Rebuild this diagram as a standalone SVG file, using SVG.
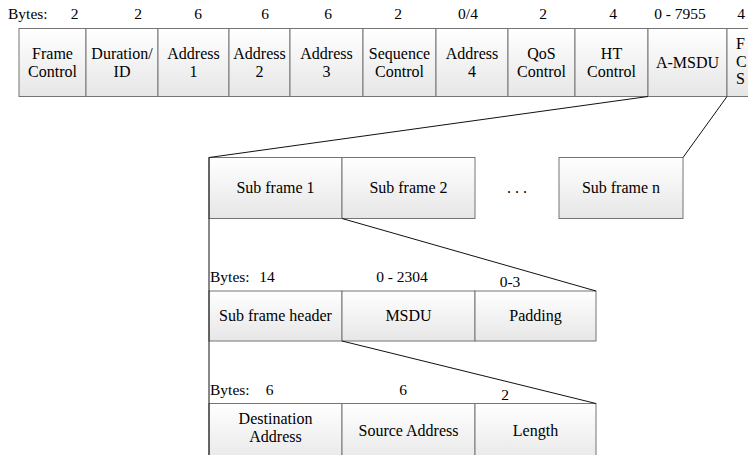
<svg xmlns="http://www.w3.org/2000/svg" width="748" height="455" viewBox="0 0 748 455">
  <defs>
    <linearGradient id="cellFill" x1="0" y1="0" x2="0" y2="1">
      <stop offset="0" stop-color="#ffffff"/>
      <stop offset="1" stop-color="#e6e6e6"/>
    </linearGradient>
    <style>
      .cell { fill: url(#cellFill); stroke: #747474; stroke-width: 1; }
      text { font-family: 'Liberation Serif', 'Times New Roman', serif; fill: #000000; }
      .txt { font-size: 16px; text-anchor: middle; }
      .lbl { font-size: 15.5px; text-anchor: middle; }
      .start { text-anchor: start; }
      .conn { stroke: #111111; stroke-width: 1; fill: none; }
    </style>
  </defs>
  <rect width="748" height="455" fill="#ffffff"/>

  <g font-family="Liberation Serif, Times New Roman, serif">
  <!-- MAC frame byte counts -->
  <g id="mac-bytes">
    <text class="lbl start" x="8" y="19">Bytes:</text>
    <text class="lbl" x="74.5" y="19">2</text>
    <text class="lbl" x="138" y="19">2</text>
    <text class="lbl" x="198" y="19">6</text>
    <text class="lbl" x="265" y="19">6</text>
    <text class="lbl" x="328" y="19">6</text>
    <text class="lbl" x="398" y="19">2</text>
    <text class="lbl" x="468" y="19">0/4</text>
    <text class="lbl" x="543" y="19">2</text>
    <text class="lbl" x="613" y="19">4</text>
    <text class="lbl" x="680" y="19">0 - 7955</text>
    <text class="lbl" x="741" y="19">4</text>
  </g>

  <!-- MAC frame fields -->
  <g id="frame-control">
    <rect class="cell" x="19" y="28.5" width="67" height="68"/>
    <text class="txt" x="52.5" y="58.5">Frame</text>
    <text class="txt" x="52.5" y="76.5">Control</text>
  </g>
  <g id="duration-id">
    <rect class="cell" x="86" y="28.5" width="72" height="68"/>
    <text class="txt" x="122" y="58.5">Duration/</text>
    <text class="txt" x="122" y="76.5">ID</text>
  </g>
  <g id="address-1">
    <rect class="cell" x="158" y="28.5" width="71" height="68"/>
    <text class="txt" x="193.5" y="58.5">Address</text>
    <text class="txt" x="193.5" y="76.5">1</text>
  </g>
  <g id="address-2">
    <rect class="cell" x="229" y="28.5" width="61" height="68"/>
    <text class="txt" x="259.5" y="58.5">Address</text>
    <text class="txt" x="259.5" y="76.5">2</text>
  </g>
  <g id="address-3">
    <rect class="cell" x="290" y="28.5" width="73" height="68"/>
    <text class="txt" x="326.5" y="58.5">Address</text>
    <text class="txt" x="326.5" y="76.5">3</text>
  </g>
  <g id="sequence-control">
    <rect class="cell" x="363" y="28.5" width="73" height="68"/>
    <text class="txt" x="399.5" y="58.5">Sequence</text>
    <text class="txt" x="399.5" y="76.5">Control</text>
  </g>
  <g id="address-4">
    <rect class="cell" x="436" y="28.5" width="72" height="68"/>
    <text class="txt" x="472" y="58.5">Address</text>
    <text class="txt" x="472" y="76.5">4</text>
  </g>
  <g id="qos-control">
    <rect class="cell" x="508" y="28.5" width="67" height="68"/>
    <text class="txt" x="541.5" y="58.5">QoS</text>
    <text class="txt" x="541.5" y="76.5">Control</text>
  </g>
  <g id="ht-control">
    <rect class="cell" x="575" y="28.5" width="73" height="68"/>
    <text class="txt" x="611.5" y="58.5">HT</text>
    <text class="txt" x="611.5" y="76.5">Control</text>
  </g>
  <g id="a-msdu">
    <rect class="cell" x="648" y="28.5" width="79" height="68"/>
    <text class="txt" x="687.5" y="67.5">A-MSDU</text>
  </g>
  <g id="fcs">
    <rect class="cell" x="727" y="28.5" width="60" height="68"/>
    <text class="txt start" x="736" y="49">F</text>
    <text class="txt start" x="736" y="66.5">C</text>
    <text class="txt start" x="736" y="84">S</text>
  </g>

  <!-- A-MSDU subframes -->
  <g id="subframe-1">
    <rect class="cell" x="209" y="157.5" width="133" height="61"/>
    <text class="txt" x="275.5" y="193">Sub frame 1</text>
  </g>
  <g id="subframe-2">
    <rect class="cell" x="342" y="157.5" width="133" height="61"/>
    <text class="txt" x="408.5" y="193">Sub frame 2</text>
  </g>
  <g id="ellipsis">
    <text class="txt" x="517" y="193">. . .</text>
  </g>
  <g id="subframe-n">
    <rect class="cell" x="559" y="157.5" width="124" height="61"/>
    <text class="txt" x="621" y="193">Sub frame n</text>
  </g>

  <!-- Subframe layout -->
  <g id="subframe-bytes">
    <text class="lbl start" x="210" y="282">Bytes:</text>
    <text class="lbl" x="267" y="282">14</text>
    <text class="lbl" x="402" y="282">0 - 2304</text>
    <text class="lbl" x="510" y="287">0-3</text>
  </g>
  <g id="subframe-header">
    <rect class="cell" x="209" y="291" width="133" height="50"/>
    <text class="txt" x="275.5" y="321">Sub frame header</text>
  </g>
  <g id="msdu">
    <rect class="cell" x="342" y="291" width="133" height="50"/>
    <text class="txt" x="408.5" y="321">MSDU</text>
  </g>
  <g id="padding">
    <rect class="cell" x="475" y="291" width="121" height="50"/>
    <text class="txt" x="535.5" y="321">Padding</text>
  </g>

  <!-- Subframe header layout -->
  <g id="header-bytes">
    <text class="lbl start" x="210" y="395">Bytes:</text>
    <text class="lbl" x="269.5" y="395">6</text>
    <text class="lbl" x="403" y="395">6</text>
    <text class="lbl" x="505" y="400">2</text>
  </g>
  <g id="destination-address">
    <rect class="cell" x="209" y="403.5" width="133" height="62"/>
    <text class="txt" x="275.5" y="424">Destination</text>
    <text class="txt" x="275.5" y="441.5">Address</text>
  </g>
  <g id="source-address">
    <rect class="cell" x="342" y="403.5" width="133" height="62"/>
    <text class="txt" x="408.5" y="436">Source Address</text>
  </g>
  <g id="length">
    <rect class="cell" x="475" y="403.5" width="121" height="62"/>
    <text class="txt" x="535.5" y="436">Length</text>
  </g>
  </g>

  <!-- Expansion lines -->
  <g id="connectors">
    <line class="conn" x1="648" y1="96.5" x2="209" y2="157.5"/>
    <line class="conn" x1="727" y1="96.5" x2="683" y2="157.5"/>
    <line class="conn" x1="209" y1="157.5" x2="209" y2="455"/>
    <line class="conn" x1="342" y1="218.5" x2="596" y2="291"/>
    <line class="conn" x1="342" y1="341" x2="596" y2="403.5"/>
  </g>
</svg>
